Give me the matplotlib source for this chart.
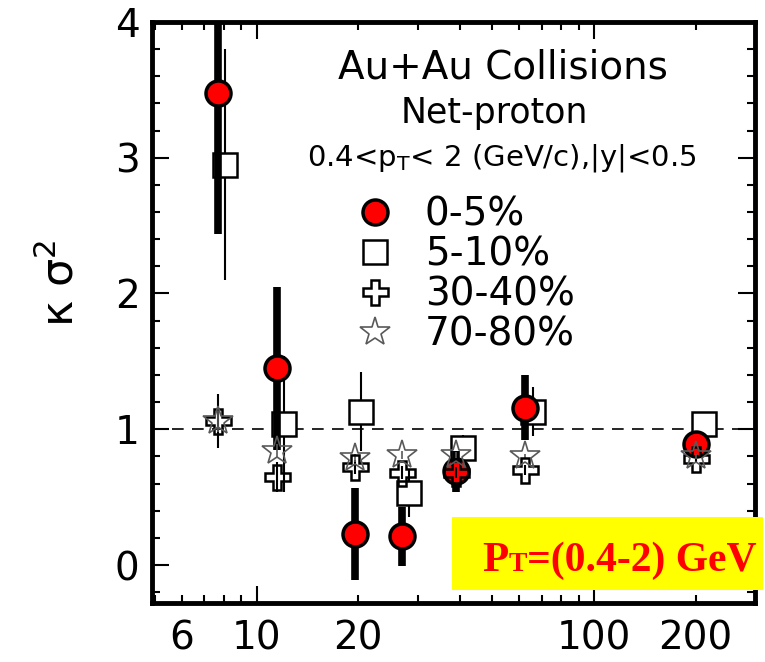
import numpy as np
import matplotlib.pyplot as plt
from matplotlib.patches import Rectangle
from matplotlib.lines import Line2D
from matplotlib.ticker import FixedLocator, FuncFormatter, MultipleLocator

# collision energy (GeV) and kappa*sigma^2
energy = [7.7, 11.5, 19.6, 27, 39, 62.4, 200]
energy_sq = [8.05, 12.1, 20.4, 28.3, 40.8, 66.0, 212]

# 0-5%
k_0_5 = [3.48, 1.45, 0.23, 0.21, 0.69, 1.16, 0.89]
err_0_5 = [1.04, 0.60, 0.34, 0.22, 0.15, 0.24, 0.10]
# 5-10%
k_5_10 = [2.95, 1.04, 1.13, 0.53, 0.86, 1.13, 1.04]
err_5_10 = [0.85, 0.50, 0.29, 0.18, 0.10, 0.18, 0.08]
# 30-40%
k_30_40 = [1.06, 0.65, 0.72, 0.68, 0.68, 0.70, 0.78]
err_30_40 = [0.20, 0.11, 0.05, 0.05, 0.04, 0.04, 0.03]
# 70-80%
k_70_80 = [1.06, 0.84, 0.79, 0.81, 0.81, 0.80, 0.80]
err_70_80 = [0.08, 0.05, 0.03, 0.03, 0.02, 0.02, 0.02]

x_labels = {6: '6', 10: '10', 20: '20', 100: '100', 200: '200'}

fig = plt.figure(figsize=(7.65, 6.62), dpi=100)
ax = fig.add_axes([0.1987, 0.0891, 0.7882, 0.8777])

ax.axhline(1, color='k', lw=1.2, ls=(0, (7, 5)), zorder=1)

# 5-10% : white squares, thin bars
ax.errorbar(energy_sq, k_5_10, yerr=err_5_10, fmt='s', ms=17, mfc='white',
            mec='k', mew=1.8, ecolor='k', elinewidth=1.5, capsize=0, zorder=2)
# 0-5% : red circles, thick bars
ax.errorbar(energy, k_0_5, yerr=err_0_5, fmt='o', ms=18, mfc='red',
            mec='k', mew=2.5, ecolor='k', elinewidth=5.5, capsize=0, zorder=3)
# 30-40% : open crosses
ax.errorbar(energy, k_30_40, yerr=err_30_40, fmt='P', ms=18, mfc='none',
            mec='k', mew=1.8, ecolor='k', elinewidth=1.5, capsize=0, zorder=4)
# 70-80% : open stars
ax.errorbar(energy, k_70_80, yerr=err_70_80, fmt='*', ms=22, mfc='none',
            mec='0.35', mew=1.2, ecolor='0.35', elinewidth=1.2, capsize=0, zorder=4)

ax.set_xscale('log')
ax.set_xlim(4.9, 300)
ax.set_ylim(-0.28, 4.0)

ax.xaxis.set_major_locator(FixedLocator([10, 100]))
ax.xaxis.set_minor_locator(FixedLocator([5, 6, 7, 8, 9, 20, 30, 40, 50, 60, 70, 80, 90, 200, 300]))
fmt = FuncFormatter(lambda v, p: x_labels.get(int(round(v)), ''))
ax.xaxis.set_major_formatter(fmt)
ax.xaxis.set_minor_formatter(fmt)
ax.yaxis.set_major_locator(MultipleLocator(1))
ax.yaxis.set_minor_locator(MultipleLocator(0.2))

ax.tick_params(which='both', direction='in', top=True, right=True, width=1.5, labelsize=28)
ax.tick_params(which='major', length=12)
ax.tick_params(which='minor', length=6)
ax.tick_params(axis='x', which='both', pad=12)
ax.tick_params(axis='y', which='both', pad=9)
for s in ax.spines.values():
    s.set_linewidth(3.5)

ax.text(-0.153, 0.55, r'κ σ$^{\mathregular{2}}$', transform=ax.transAxes, rotation=90,
        ha='center', va='center', fontsize=32)

# annotations
ax.text(0.582, 0.921, 'Au+Au Collisions', transform=ax.transAxes, ha='center', va='center', fontsize=28)
ax.text(0.567, 0.843, 'Net-proton', transform=ax.transAxes, ha='center', va='center', fontsize=25)
ax.text(0.580, 0.766, r'0.4<p$_{\rm T}$< 2 (GeV/c),|y|<0.5', transform=ax.transAxes,
        ha='center', va='center', fontsize=21)

handles = [
    Line2D([], [], ls='none', marker='o', ms=18, mfc='red', mec='k', mew=2.5),
    Line2D([], [], ls='none', marker='s', ms=17, mfc='white', mec='k', mew=1.8),
    Line2D([], [], ls='none', marker='P', ms=18, mfc='none', mec='k', mew=1.8),
    Line2D([], [], ls='none', marker='*', ms=22, mfc='none', mec='0.35', mew=1.2),
]
ax.legend(handles, ['0-5%', '5-10%', '30-40%', '70-80%'], loc='upper left',
          bbox_to_anchor=(0.3375, 0.701), frameon=False, fontsize=28,
          handlelength=1.0, handletextpad=0.78, borderpad=0, borderaxespad=0,
          labelspacing=0.05)

# yellow label box
fig.add_artist(Rectangle((452 / 765, (662 - 590) / 662), (763 - 452) / 765, 73 / 662,
                         transform=fig.transFigure, facecolor='#ffff00', edgecolor='none', zorder=10))
serif = dict(family='Liberation Serif', weight='bold', color='red', va='baseline', zorder=11)
fig.text(482 / 765, (662 - 571) / 662, 'P', fontsize=31, **serif)
fig.text(509 / 765, (662 - 571) / 662, 'T', fontsize=20, **serif)
fig.text(527 / 765, (662 - 571) / 662, '=(0.4-2) GeV', fontsize=30, **serif)

fig.savefig('out.png', dpi=100)
